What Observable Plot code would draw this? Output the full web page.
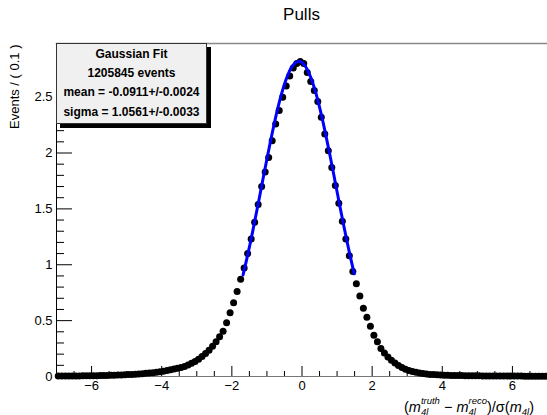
<!DOCTYPE html>
<html>
<head>
<meta charset="utf-8">
<script src="https://cdn.jsdelivr.net/npm/d3@7"></script>
<script src="https://cdn.jsdelivr.net/npm/@observablehq/plot@0.6"></script>
<style>
  body { margin: 0; background: #fff; }
  #wrap { position: relative; width: 547px; height: 415px; font-family: "Liberation Sans", Arial, Helvetica, sans-serif; color: #000; overflow: hidden; }
  #title { position: absolute; left: 56px; width: 491px; top: 5px; text-align: center; font-size: 17px; }
  #ylabel { position: absolute; left: 0; top: 0; transform: translate(8px, 129px) rotate(-90deg); transform-origin: 0 0; font-size: 13px; line-height: 14px; white-space: nowrap; }
  #stats { position: absolute; left: 56px; top: 43px; width: 151px; height: 81px; box-sizing: border-box; background: #f0f0f0; border: 1px solid #333; box-shadow: 4px 4px 0 #000; font-weight: bold; font-size: 12px; text-align: center; line-height: 19.2px; padding-top: 1px; }
  #xlabel { position: absolute; right: 13px; top: 396px; font-size: 14.5px; line-height: 15px; white-space: nowrap; }
  .ss { display: inline-block; vertical-align: -3px; font-size: 9.5px; line-height: 10.5px; font-style: italic; text-align: left; }
  .ss span { display: block; }
  .sb { font-size: 9.5px; font-style: italic; vertical-align: -3px; line-height: 9px; }
  svg { position: absolute; left: 0; top: 0; }
</style>
</head>
<body>
<div id="wrap">
  <div id="chart"></div>
  <div id="title">Pulls</div>
  <div id="ylabel">Events / ( 0.1 )</div>
  <div id="stats">
    <div>Gaussian Fit</div>
    <div>1205845 events</div>
    <div>mean = -0.0911+/-0.0024</div>
    <div>sigma = 1.0561+/-0.0033</div>
  </div>
  <div id="xlabel">(<i>m</i><span class="ss"><span>truth</span><span>4l</span></span> − <i>m</i><span class="ss"><span>reco</span><span>4l</span></span>)/σ(<i>m</i><span class="sb">4l</span>)</div>
</div>
<script>
// Bin centres (width 0.1)
const binCenters = [
  -6.95,-6.85,-6.75,-6.65,-6.55,-6.45,-6.35,-6.25,-6.15,-6.05,
  -5.95,-5.85,-5.75,-5.65,-5.55,-5.45,-5.35,-5.25,-5.15,-5.05,
  -4.95,-4.85,-4.75,-4.65,-4.55,-4.45,-4.35,-4.25,-4.15,-4.05,
  -3.95,-3.85,-3.75,-3.65,-3.55,-3.45,-3.35,-3.25,-3.15,-3.05,
  -2.95,-2.85,-2.75,-2.65,-2.55,-2.45,-2.35,-2.25,-2.15,-2.05,
  -1.95,-1.85,-1.75,-1.65,-1.55,-1.45,-1.35,-1.25,-1.15,-1.05,
  -0.95,-0.85,-0.75,-0.65,-0.55,-0.45,-0.35,-0.25,-0.15,-0.05,
  0.05,0.15,0.25,0.35,0.45,0.55,0.65,0.75,0.85,0.95,
  1.05,1.15,1.25,1.35,1.45,1.55,1.65,1.75,1.85,1.95,
  2.05,2.15,2.25,2.35,2.45,2.55,2.65,2.75,2.85,2.95,
  3.05,3.15,3.25,3.35,3.45,3.55,3.65,3.75,3.85,3.95,
  4.05,4.15,4.25,4.35,4.45,4.55,4.65,4.75,4.85,4.95,
  5.05,5.15,5.25,5.35,5.45,5.55,5.65,5.75,5.85,5.95,
  6.05,6.15,6.25,6.35,6.45,6.55,6.65,6.75,6.85,6.95
];
// Events per bin
const binValues = [
  0.004,0.004,0.004,0.005,0.005,0.005,0.005,0.006,0.006,0.006,
  0.007,0.007,0.008,0.009,0.010,0.011,0.012,0.013,0.014,0.016,
  0.017,0.019,0.021,0.023,0.025,0.028,0.031,0.034,0.038,0.042,
  0.047,0.053,0.060,0.067,0.074,0.081,0.090,0.103,0.118,0.135,
  0.155,0.180,0.205,0.235,0.270,0.310,0.355,0.405,0.480,0.570,
  0.66,0.76,0.87,0.97,1.10,1.23,1.38,1.54,1.70,1.83,
  1.96,2.11,2.26,2.38,2.50,2.60,2.69,2.76,2.80,2.82,
  2.80,2.72,2.64,2.56,2.46,2.32,2.17,2.02,1.87,1.71,
  1.55,1.39,1.23,1.08,0.94,0.83,0.72,0.61,0.53,0.45,
  0.37,0.31,0.25,0.21,0.175,0.145,0.120,0.098,0.080,0.065,
  0.053,0.044,0.037,0.031,0.026,0.022,0.019,0.017,0.015,0.013,
  0.012,0.011,0.010,0.009,0.008,0.008,0.007,0.007,0.006,0.006,
  0.006,0.005,0.005,0.005,0.005,0.005,0.004,0.004,0.004,0.004,
  0.004,0.004,0.004,0.003,0.003,0.003,0.003,0.003,0.003,0.003
];
// Fitted Gaussian curve samples
const fitX = [-1.68,-1.6,-1.5,-1.4,-1.3,-1.2,-1.1,-1.0,-0.9,-0.8,-0.7,-0.6,-0.5,-0.4,-0.3,-0.2,-0.1,
  0.0,0.1,0.2,0.3,0.4,0.5,0.6,0.7,0.8,0.9,1.0,1.1,1.2,1.3,1.4,1.49];
const fitY = [0.909,1.016,1.158,1.308,1.465,1.625,1.787,1.947,2.103,2.251,2.388,2.511,2.616,2.702,2.767,2.805,2.820,
  2.810,2.774,2.715,2.633,2.531,2.411,2.276,2.129,1.975,1.816,1.653,1.493,1.336,1.185,1.041,0.919];
// Axis ticks
const xMajor = [-6,-4,-2,0,2,4,6];
const xMinor = [-6.5,-5.5,-5,-4.5,-3.5,-3,-2.5,-1.5,-1,-0.5,0.5,1,1.5,2.5,3,3.5,4.5,5,5.5,6.5];
const yMajor = [0,0.5,1,1.5,2,2.5];
const yMinor = [0.1,0.2,0.3,0.4,0.6,0.7,0.8,0.9,1.1,1.2,1.3,1.4,1.6,1.7,1.8,1.9,2.1,2.2,2.3,2.4,2.6,2.7,2.8,2.9];

const points = binCenters.map((x, i) => ({x, y: binValues[i]}));
const fit = fitX.map((x, i) => ({x, y: fitY[i]}));

const W = 547, H = 415, mL = 56, mR = 0, mT = 43, mB = 39;
const fw = W - mL - mR, fh = H - mT - mB;

const chart = Plot.plot({
  width: W, height: H,
  marginLeft: mL, marginRight: mR, marginTop: mT, marginBottom: mB,
  style: {fontFamily: "Liberation Sans, Arial, Helvetica, sans-serif", fontSize: "13px", color: "#000", background: "transparent"},
  x: {domain: [-7, 7]},
  y: {domain: [0, 2.98]},
  marks: [
    Plot.ruleX([-7], {stroke: "#000", strokeWidth: 1}),
    Plot.ruleY([0], {stroke: "#777", strokeWidth: 1.2}),
    Plot.frame({anchor: "top", stroke: "#888", strokeWidth: 1.5}),
    Plot.tickY(yMajor, {y: d => d, stroke: "#000", insetRight: fw - 16}),
    Plot.tickY(yMinor, {y: d => d, stroke: "#000", insetRight: fw - 8}),
    Plot.tickX(xMajor, {x: d => d, stroke: "#000", insetTop: fh - 10}),
    Plot.tickX(xMinor, {x: d => d, stroke: "#000", insetTop: fh - 5}),
    Plot.axisY(yMajor, {tickSize: 0, tickPadding: 4, label: null, tickFormat: d => String(d)}),
    Plot.axisX(xMajor, {tickSize: 0, tickPadding: 4, label: null}),
    Plot.dot(points, {x: "x", y: "y", r: 3.5, fill: "#000", stroke: null}),
    Plot.line(fit, {x: "x", y: "y", stroke: "#0000ff", strokeWidth: 3, curve: "natural"})
  ]
});
document.getElementById("chart").appendChild(chart);
</script>
</body>
</html>
